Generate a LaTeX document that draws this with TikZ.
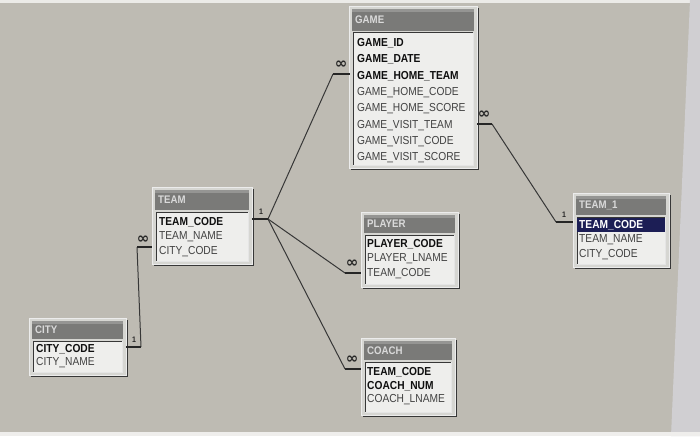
\documentclass[tikz,border=0pt]{standalone}
\usepackage{fontspec}
\setmainfont[FakeStretch=0.88]{Liberation Sans}
\newfontfamily\symfnt{DejaVu Sans}
\usetikzlibrary{fit,calc}
\definecolor{bgc}{RGB}{190,187,179}
\definecolor{bezelc}{RGB}{208,207,210}
\definecolor{framec}{RGB}{214,214,210}
\definecolor{titlec}{RGB}{122,122,120}
\definecolor{titletxt}{RGB}{218,218,218}
\definecolor{listc}{RGB}{238,238,236}
\definecolor{dk}{RGB}{55,55,55}
\definecolor{rowtxt}{RGB}{65,65,65}
\definecolor{keytxt}{RGB}{15,15,15}
\definecolor{selc}{RGB}{28,30,85}
\tikzset{
  boxframe/.style={fill=framec, draw=white!85!gray, line width=0.8pt, inner sep=0pt},
  titletext/.style={anchor=west, inner sep=0pt, text=titletxt, font=\fontsize{11}{12}\selectfont\bfseries},
  fieldrow/.style={anchor=west, inner sep=0pt, text=rowtxt, font=\fontsize{11.6}{12}\selectfont},
  keyrow/.style={fieldrow, text=keytxt, font=\fontsize{11.6}{12}\selectfont\bfseries},
  stub/.style={draw=black!85, line width=2.6pt},
  relline/.style={draw=dk, line width=1pt},
  onelbl/.style={inner sep=0pt, font=\fontsize{8}{8}\selectfont\bfseries, text=black!85},
  manylbl/.style={inner sep=0pt, font=\symfnt\bfseries\fontsize{15}{15}\selectfont, text=black!85},
}
\newcommand\dbtable[7]{%
  \path (#2,#3) coordinate (#1-nw) (#4,#5) coordinate (#1-se);
  \draw[line width=2pt, dk] ($(#1-nw)+(#4-#2+1,2)$) -- ($(#1-se)+(1,1)$) -- ($(#1-nw)+(2,#5-#3+1)$);
  \node[boxframe, fit=(#1-nw)(#1-se)] (#1) {};
  \fill[titlec] (#2+3,#3+3) rectangle (#4-3,#6);
  \fill[white!20!titlec] (#2+3,#3+3) rectangle (#4-3,#3+6);
  \fill[listc] (#2+4,#6+2) rectangle (#4-4,#5-3);
  \draw[dk, line width=1pt] (#2+4,#5-3) -- (#2+4,#6+2) -- (#4-4,#6+2);
  \draw[white!80!gray, line width=0.6pt] (#2+4,#5-3) -- (#4-4,#5-3) -- (#4-4,#6+2);
  \node[titletext] (#1-title) at (#2+6,{(#3+3+#6)/2}) {#7};
}
\begin{document}
\begin{tikzpicture}[x=1pt,y=-1pt]
\useasboundingbox (0,0) rectangle (700,436);
\fill[bgc] (0,0) rectangle (700,436);
\fill[white!70!bgc] (0,0) rectangle (700,3);
\fill[bezelc] (690,0) -- (700,0) -- (700,436) -- (671,436) -- cycle;
\fill[white!75!bgc] (0,432) rectangle (700,436);

% GAME
\dbtable{game}{349}{6}{477}{168}{31}{GAME}
\node[keyrow] (game-id) at (357,43) {GAME\_ID};
\node[keyrow] (game-date) at (357,59) {GAME\_DATE};
\node[keyrow] (game-hteam) at (357,76) {GAME\_HOME\_TEAM};
\node[fieldrow] (game-hcode) at (357,93) {GAME\_HOME\_CODE};
\node[fieldrow] (game-hscore) at (357,109) {GAME\_HOME\_SCORE};
\node[fieldrow] (game-vteam) at (357,126) {GAME\_VISIT\_TEAM};
\node[fieldrow] (game-vcode) at (357,142) {GAME\_VISIT\_CODE};
\node[fieldrow] (game-vscore) at (357,158) {GAME\_VISIT\_SCORE};

% TEAM
\dbtable{team}{152}{187}{252}{264}{210}{TEAM}
\node[keyrow] (team-code) at (159,222) {TEAM\_CODE};
\node[fieldrow] (team-name) at (159,237) {TEAM\_NAME};
\node[fieldrow] (team-city) at (159,252) {CITY\_CODE};

% CITY
\dbtable{city}{29}{318}{126}{375}{339}{CITY}
\node[keyrow] (city-code) at (36,349) {CITY\_CODE};
\node[fieldrow] (city-name) at (36,363) {CITY\_NAME};

% PLAYER
\dbtable{player}{361}{212}{458}{287}{233}{PLAYER}
\node[keyrow] (player-code) at (367,244) {PLAYER\_CODE};
\node[fieldrow] (player-lname) at (367,259) {PLAYER\_LNAME};
\node[fieldrow] (player-team) at (367,274) {TEAM\_CODE};

% COACH
\dbtable{coach}{361}{338}{455}{415}{360}{COACH}
\node[keyrow] (coach-team) at (367,372) {TEAM\_CODE};
\node[keyrow] (coach-num) at (367,386) {COACH\_NUM};
\node[fieldrow] (coach-lname) at (367,400) {COACH\_LNAME};

% TEAM_1
\dbtable{teamone}{573}{193}{669}{267}{215}{TEAM\_1}
\fill[selc] (577,218) rectangle (665,232);
\node[keyrow, text=white] (t1-code) at (579,225) {TEAM\_CODE};
\node[fieldrow] (t1-name) at (579,240) {TEAM\_NAME};
\node[fieldrow] (t1-city) at (579,255) {CITY\_CODE};

% attach points
\coordinate (cityR) at (126,347);
\coordinate (cityRs) at (141,347);
\coordinate (teamLs) at (137,247);
\coordinate (teamL) at (152,247);
\coordinate (teamR) at (252,219);
\coordinate (teamRs) at (268,219);
\coordinate (gameLs) at (333,74);
\coordinate (gameL) at (350,74);
\coordinate (playerLs) at (345,273);
\coordinate (playerL) at (361,273);
\coordinate (coachLs) at (345,369);
\coordinate (coachL) at (361,369);
\coordinate (gameR) at (477,124);
\coordinate (gameRs) at (492,124);
\coordinate (t1Ls) at (556,222);
\coordinate (t1L) at (573,222);

% relationships
\draw[relline] (cityRs) -- (teamLs);
\draw[relline] (teamRs) -- (gameLs);
\draw[relline] (teamRs) -- (playerLs);
\draw[relline] (teamRs) -- (coachLs);
\draw[relline] (gameRs) -- (t1Ls);
\draw[stub] (cityR) -- (cityRs);
\draw[stub] (teamLs) -- (teamL);
\draw[stub] (teamR) -- (teamRs);
\draw[stub] (gameLs) -- (gameL);
\draw[stub] (playerLs) -- (playerL);
\draw[stub] (coachLs) -- (coachL);
\draw[stub] (gameR) -- (gameRs);
\draw[stub] (t1Ls) -- (t1L);

\node[onelbl] (lbla) at (134,340) {1};
\node[manylbl] (lblb) at (143,240) {∞};
\node[onelbl] (lblc) at (261,212) {1};
\node[manylbl] (lbld) at (341,65) {∞};
\node[manylbl] (lble) at (352,264) {∞};
\node[manylbl] (lblf) at (352,360) {∞};
\node[manylbl] (lblg) at (484,115) {∞};
\node[onelbl] (lblh) at (564,215) {1};
\end{tikzpicture}
\end{document}
